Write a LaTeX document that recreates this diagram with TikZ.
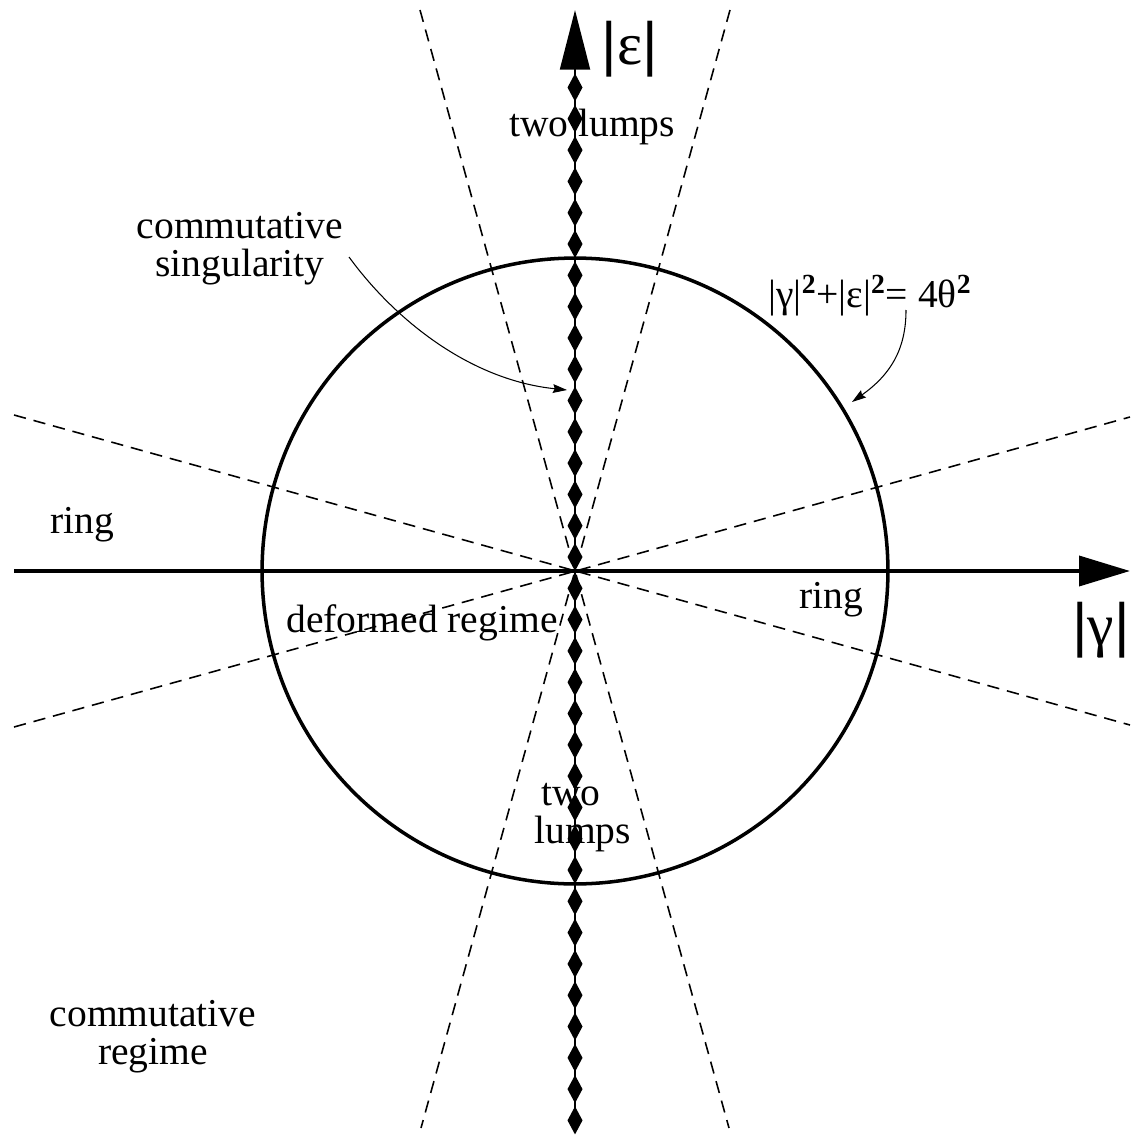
\documentclass[tikz,border=0pt]{standalone}
\usepackage{fontspec}
\setmainfont{Liberation Serif}
\setsansfont{Liberation Sans}
\usetikzlibrary{arrows.meta}
\newcommand{\bsq}{\textsuperscript{\bfseries 2}}

\begin{document}
\begin{tikzpicture}[
  x=0.02cm, y=-0.02cm,
  lbl/.style={font=\fontsize{22.5}{21.5}\selectfont, inner sep=0pt, anchor=base},
  axlbl/.style={font=\sffamily\fontsize{34}{34}\selectfont, inner sep=0pt, anchor=base},
  axis/.style={line width=2.3pt},
  guide/.style={line width=0.9pt, dash pattern=on 7pt off 4.5pt},
  pointer/.style={line width=0.6pt, -{Stealth[length=8pt,width=5pt,inset=1pt]}},
  bead/.style={fill=black}
]
\useasboundingbox (0,0) rectangle (1130,1135);

\coordinate (o) at (575,571);

% regime boundaries
\coordinate (g1a) at (420,10);  \coordinate (g1b) at (729,1128);
\coordinate (g2a) at (730,10);  \coordinate (g2b) at (421,1128);
\coordinate (g3a) at (14,415);  \coordinate (g3b) at (1130,725);
\coordinate (g4a) at (14,727);  \coordinate (g4b) at (1130,417);
\draw[guide] (g1a) -- (g1b);
\draw[guide] (g2a) -- (g2b);
\draw[guide] (g3a) -- (g3b);
\draw[guide] (g4a) -- (g4b);

% circle
\draw[line width=2pt] (o) circle[radius=6.26cm];

% axes
\coordinate (gL) at (14,571);  \coordinate (gR) at (1130,571);
\coordinate (eB) at (575,1132); \coordinate (eT) at (575,10);
\draw[axis, -{Triangle[length=29pt,width=17pt]}] (gL) -- (gR);
\draw[line width=1.5pt, -{Triangle[length=34pt,width=17pt]}] (eB) -- (eT);
\foreach \k in {-15,...,18} {
  \pgfmathsetmacro\yc{557+31.3*\k}
  \fill[bead] (575,\yc-14) -- (582.5,\yc) -- (575,\yc+14) -- (567.5,\yc) -- cycle;
}

% labels
\node[lbl] (twolumpsT) at (592,137) {two lumps};
\node[lbl, align=center] (singlbl) at (240,276) {commutative\\singularity};
\node[lbl, align=center] (commlbl) at (153,1064) {commutative\\regime};
\node[lbl] (ringL) at (82,533) {ring};
\node[lbl] (ringR) at (831,608) {ring};
\node[lbl] (deflbl) at (422,632) {deformed regime};
\node[lbl, align=left, anchor=base west] (twolumpsB) at (534,843) {\hspace*{4pt}two\\lumps};
\node[lbl] (circlbl) at (870,307) {|γ|\bsq+|ε|\bsq= 4θ\bsq};
\node[axlbl] (epslbl) at (630,65) {|{\rmfamily ε}|};
\node[axlbl] (gamlbl) at (1101,645) {|{\rmfamily γ}|};

% pointers
\coordinate (singfrom) at (349,257); \coordinate (singto) at (567,390);
\draw[pointer] (singfrom) .. controls (395,320) and (470,380) .. (singto);
\coordinate (circfrom) at (906,310); \coordinate (circto) at (852,402);
\draw[pointer] (circfrom) .. controls (906,350) and (890,375) .. (circto);
\end{tikzpicture}
\end{document}
